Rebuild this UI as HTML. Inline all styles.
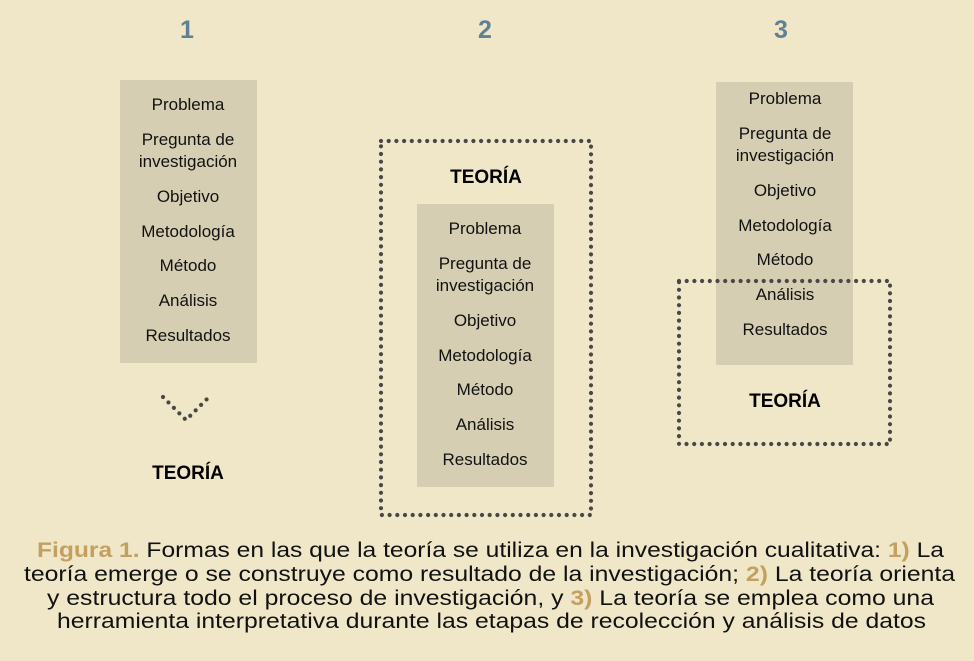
<!DOCTYPE html>
<html><head><meta charset="utf-8"><style>
html,body{margin:0;padding:0;background:#efe7c7;}
svg{display:block;}
text{font-family:"Liberation Sans",sans-serif;}
</style></head><body>
<svg width="974" height="661" viewBox="0 0 974 661" xmlns="http://www.w3.org/2000/svg">
<rect width="974" height="661" fill="#efe7c7"/>
<g fill="#5f8195" font-weight="bold" font-size="25" text-anchor="middle">
<text x="187" y="38">1</text><text x="485" y="38">2</text><text x="781" y="38">3</text>
</g>
<rect x="120" y="80" width="137" height="283" fill="#d6ceb2"/>
<rect x="417" y="204" width="137" height="283" fill="#d6ceb2"/>
<rect x="716" y="82" width="137" height="283" fill="#d6ceb2"/>
<g font-size="17" fill="#111" text-anchor="middle">
<g transform="translate(188,0)">
<text y="110">Problema</text><text y="145">Pregunta de</text><text y="167">investigación</text><text y="202">Objetivo</text><text y="237">Metodología</text><text y="271">Método</text><text y="306">Análisis</text><text y="341">Resultados</text>
</g>
<g transform="translate(485,124)">
<text y="110">Problema</text><text y="145">Pregunta de</text><text y="167">investigación</text><text y="202">Objetivo</text><text y="237">Metodología</text><text y="271">Método</text><text y="306">Análisis</text><text y="341">Resultados</text>
</g>
<g transform="translate(785,-6)">
<text y="110">Problema</text><text y="145">Pregunta de</text><text y="167">investigación</text><text y="202">Objetivo</text><text y="237">Metodología</text><text y="271">Método</text><text y="306">Análisis</text><text y="341">Resultados</text>
</g>
</g>
<g fill="none" stroke="#4a4846" stroke-width="4.2" stroke-linecap="round" stroke-dasharray="0 7.7">
<rect x="381" y="141" width="210" height="374"/>
<rect x="679" y="281" width="211" height="163"/>
<polyline points="163,397 186,420 209,397"/>
</g>
<g font-size="19" font-weight="bold" fill="#000" text-anchor="middle">
<text x="188" y="479">TEORÍA</text>
<text x="486" y="183">TEORÍA</text>
<text x="785" y="407">TEORÍA</text>
</g>
<g font-size="21" fill="#111">
<text x="37" y="557" textLength="907" lengthAdjust="spacingAndGlyphs"><tspan fill="#c39f60" font-weight="bold">Figura 1.</tspan> Formas en las que la teoría se utiliza en la investigación cualitativa: <tspan fill="#c39f60" font-weight="bold">1)</tspan> La</text>
<text x="24" y="581" textLength="931" lengthAdjust="spacingAndGlyphs">teoría emerge o se construye como resultado de la investigación; <tspan fill="#c39f60" font-weight="bold">2)</tspan> La teoría orienta</text>
<text x="47" y="605" textLength="887" lengthAdjust="spacingAndGlyphs">y estructura todo el proceso de investigación, y <tspan fill="#c39f60" font-weight="bold">3)</tspan> La teoría se emplea como una</text>
<text x="57" y="628" textLength="869" lengthAdjust="spacingAndGlyphs">herramienta interpretativa durante las etapas de recolección y análisis de datos</text>
</g>
</svg>
</body></html>
